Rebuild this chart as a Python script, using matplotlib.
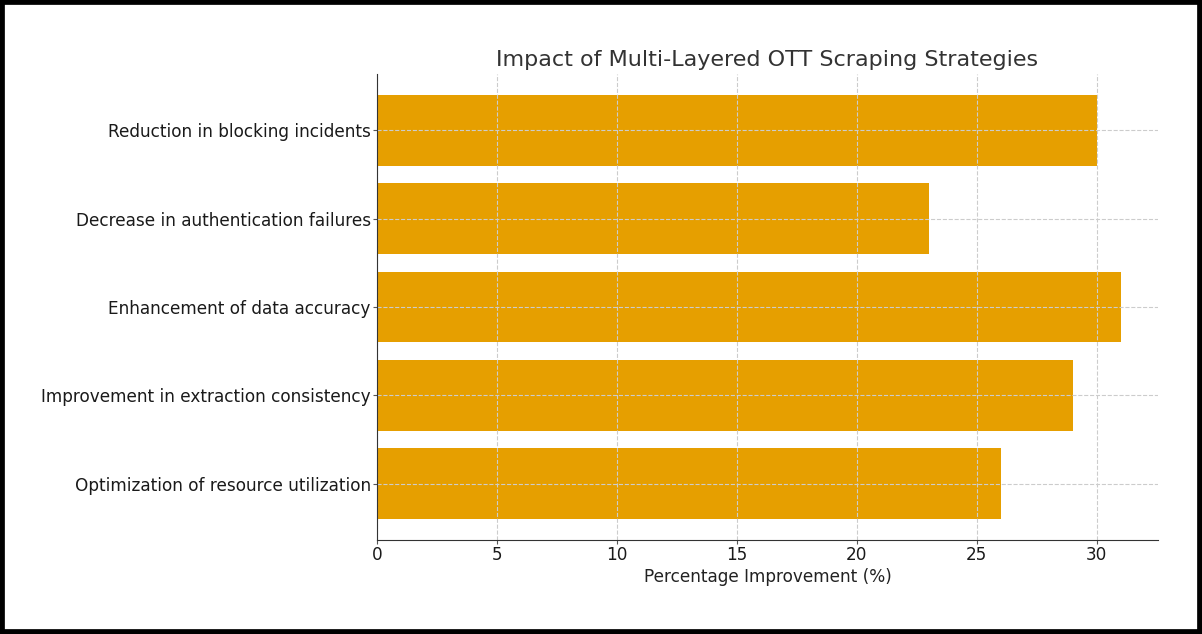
import matplotlib.pyplot as plt
from matplotlib.patches import Rectangle

# data
strategies = [
    "Reduction in blocking incidents",
    "Decrease in authentication failures",
    "Enhancement of data accuracy",
    "Improvement in extraction consistency",
    "Optimization of resource utilization",
]
improvement = [30, 23, 31, 29, 26]

fig = plt.figure(figsize=(12.02, 6.34), dpi=100)
ax = fig.add_axes([377 / 1202, 1 - 540 / 634, (1158 - 377) / 1202, (540 - 74) / 634])

ax.barh(strategies, improvement, color="#E69F00", height=0.8)
ax.invert_yaxis()

ax.set_title("Impact of Multi-Layered OTT Scraping Strategies", fontsize=16, color="#333333")
ax.set_xlabel("Percentage Improvement (%)", fontsize=12.2, color="#222222", labelpad=3)
ax.tick_params(labelsize=12.2, labelcolor="#1a1a1a", color="#555555", length=3, pad=1.5)

ax.grid(True, linestyle="--", color="#cccccc", linewidth=0.8)
ax.spines["top"].set_visible(False)
ax.spines["right"].set_visible(False)
for s in ["left", "bottom"]:
    ax.spines[s].set_color("#333333")

# black frame around the image
fig.patches.append(Rectangle((0, 0), 1, 1, transform=fig.transFigure, fill=False,
                             edgecolor="black", linewidth=7, zorder=10))

fig.savefig("out.png", dpi=100)
